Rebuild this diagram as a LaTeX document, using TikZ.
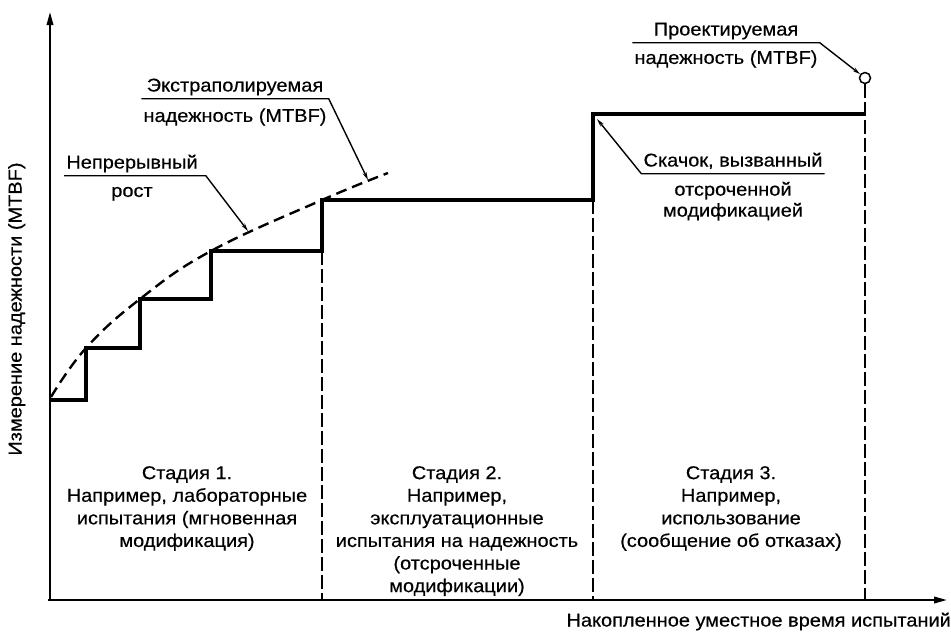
\documentclass[tikz,border=0pt]{standalone}
\usepackage{fontspec}
\setmainfont{Liberation Sans}[FakeStretch=1.08, FakeBold=0.4]
\usetikzlibrary{arrows, arrows.meta, positioning, calc}

\tikzset{
	axis/.style={line width=2pt, -{Triangle[length=13pt,width=6.5pt]}},
	stair/.style={line width=3.2pt, line join=miter},
	growth/.style={line width=2.4pt, dash pattern=on 11pt off 6pt},
	bound/.style={line width=1.7pt, dash pattern=on 14pt off 4pt},
	leader/.style={line width=1.4pt, -{Stealth[length=8pt,width=4pt]}},
	lbl/.style={inner xsep=2pt, inner ysep=3pt, text height=13pt, text depth=4pt, font=\fontsize{18.5}{22}\selectfont},
	stage/.style={align=center, inner sep=0pt, font=\fontsize{18.5}{22.6}\selectfont},
}

\begin{document}
\begin{tikzpicture}[x=1pt, y=-1pt]
	\useasboundingbox (0,0) rectangle (951,633);
	\draw[axis] (50,600) -- (50,12);
	\draw[axis] (48,600) -- (947,600);
	\draw[stair] (50,400) -| (86,348) -| (140,299) -| (211,251) -| (322,200) -| (593,114) -- (865,114);
	\draw[growth] plot[smooth, tension=0.7] coordinates {(51,397) (86,348) (140,299) (211,251) (322,200) (388,173)};
	\node[draw, circle, minimum size=11pt, inner sep=0pt, line width=1.5pt] (mtbf) at (865,78) {};
	\draw[bound] (322,251) -- (322,600);
	\draw[bound] (593,200) -- (593,600);
	\draw[bound] (mtbf.south) -- (865,600);
	\coordinate (pcont) at (248,231);
	\coordinate (pextr) at (368,180);
	\coordinate (pjump) at (597,119);

	\node[lbl] (extr1) at (235,87) {Экстраполируемая};
	\node[lbl, below=7pt of extr1] (extr2) {надежность (MTBF)};
	\draw[leader] (extr2.west |- extr1.south) -- (extr2.east |- extr1.south) -- (pextr);

	\node[lbl] (cont1) at (132,164) {Непрерывный};
	\node[lbl, below=5pt of cont1] (cont2) {рост};
	\draw[leader] (cont1.south west) -- ($(cont1.south east)+(6,0)$) -- (pcont);

	\node[lbl] (proj1) at (726,31) {Проектируемая};
	\node[lbl, below=5pt of proj1] (proj2) {надежность (MTBF)};
	\draw[leader] (proj2.west |- proj1.south) -- (proj2.east |- proj1.south) -- (mtbf);

	\node[lbl] (jump1) at (733,162) {Скачок, вызванный};
	\node[stage, below=8pt of jump1] (jump2) {отсроченной\\[-1.6pt]модификацией};
	\draw[leader] (jump1.south east) -- (jump1.south west) -- (pjump);

	\node[stage, anchor=north] (st1) at (187,466) {Стадия 1.\\Например, лабораторные\\испытания (мгновенная\\модификация)};
	\node[stage, anchor=north] (st2) at (457,466) {Стадия 2.\\Например,\\эксплуатационные\\испытания на надежность\\(отсроченные\\модификации)};
	\node[stage, anchor=north] (st3) at (731,466) {Стадия 3.\\Например,\\использование\\(сообщение об отказах)};

	\node[lbl, rotate=90] (ylab) at (17,309) {Измерение надежности (MTBF)};
	\node[lbl, anchor=east, inner xsep=0pt] (xlab) at (951,622) {Накопленное уместное время испытаний};
\end{tikzpicture}
\end{document}
